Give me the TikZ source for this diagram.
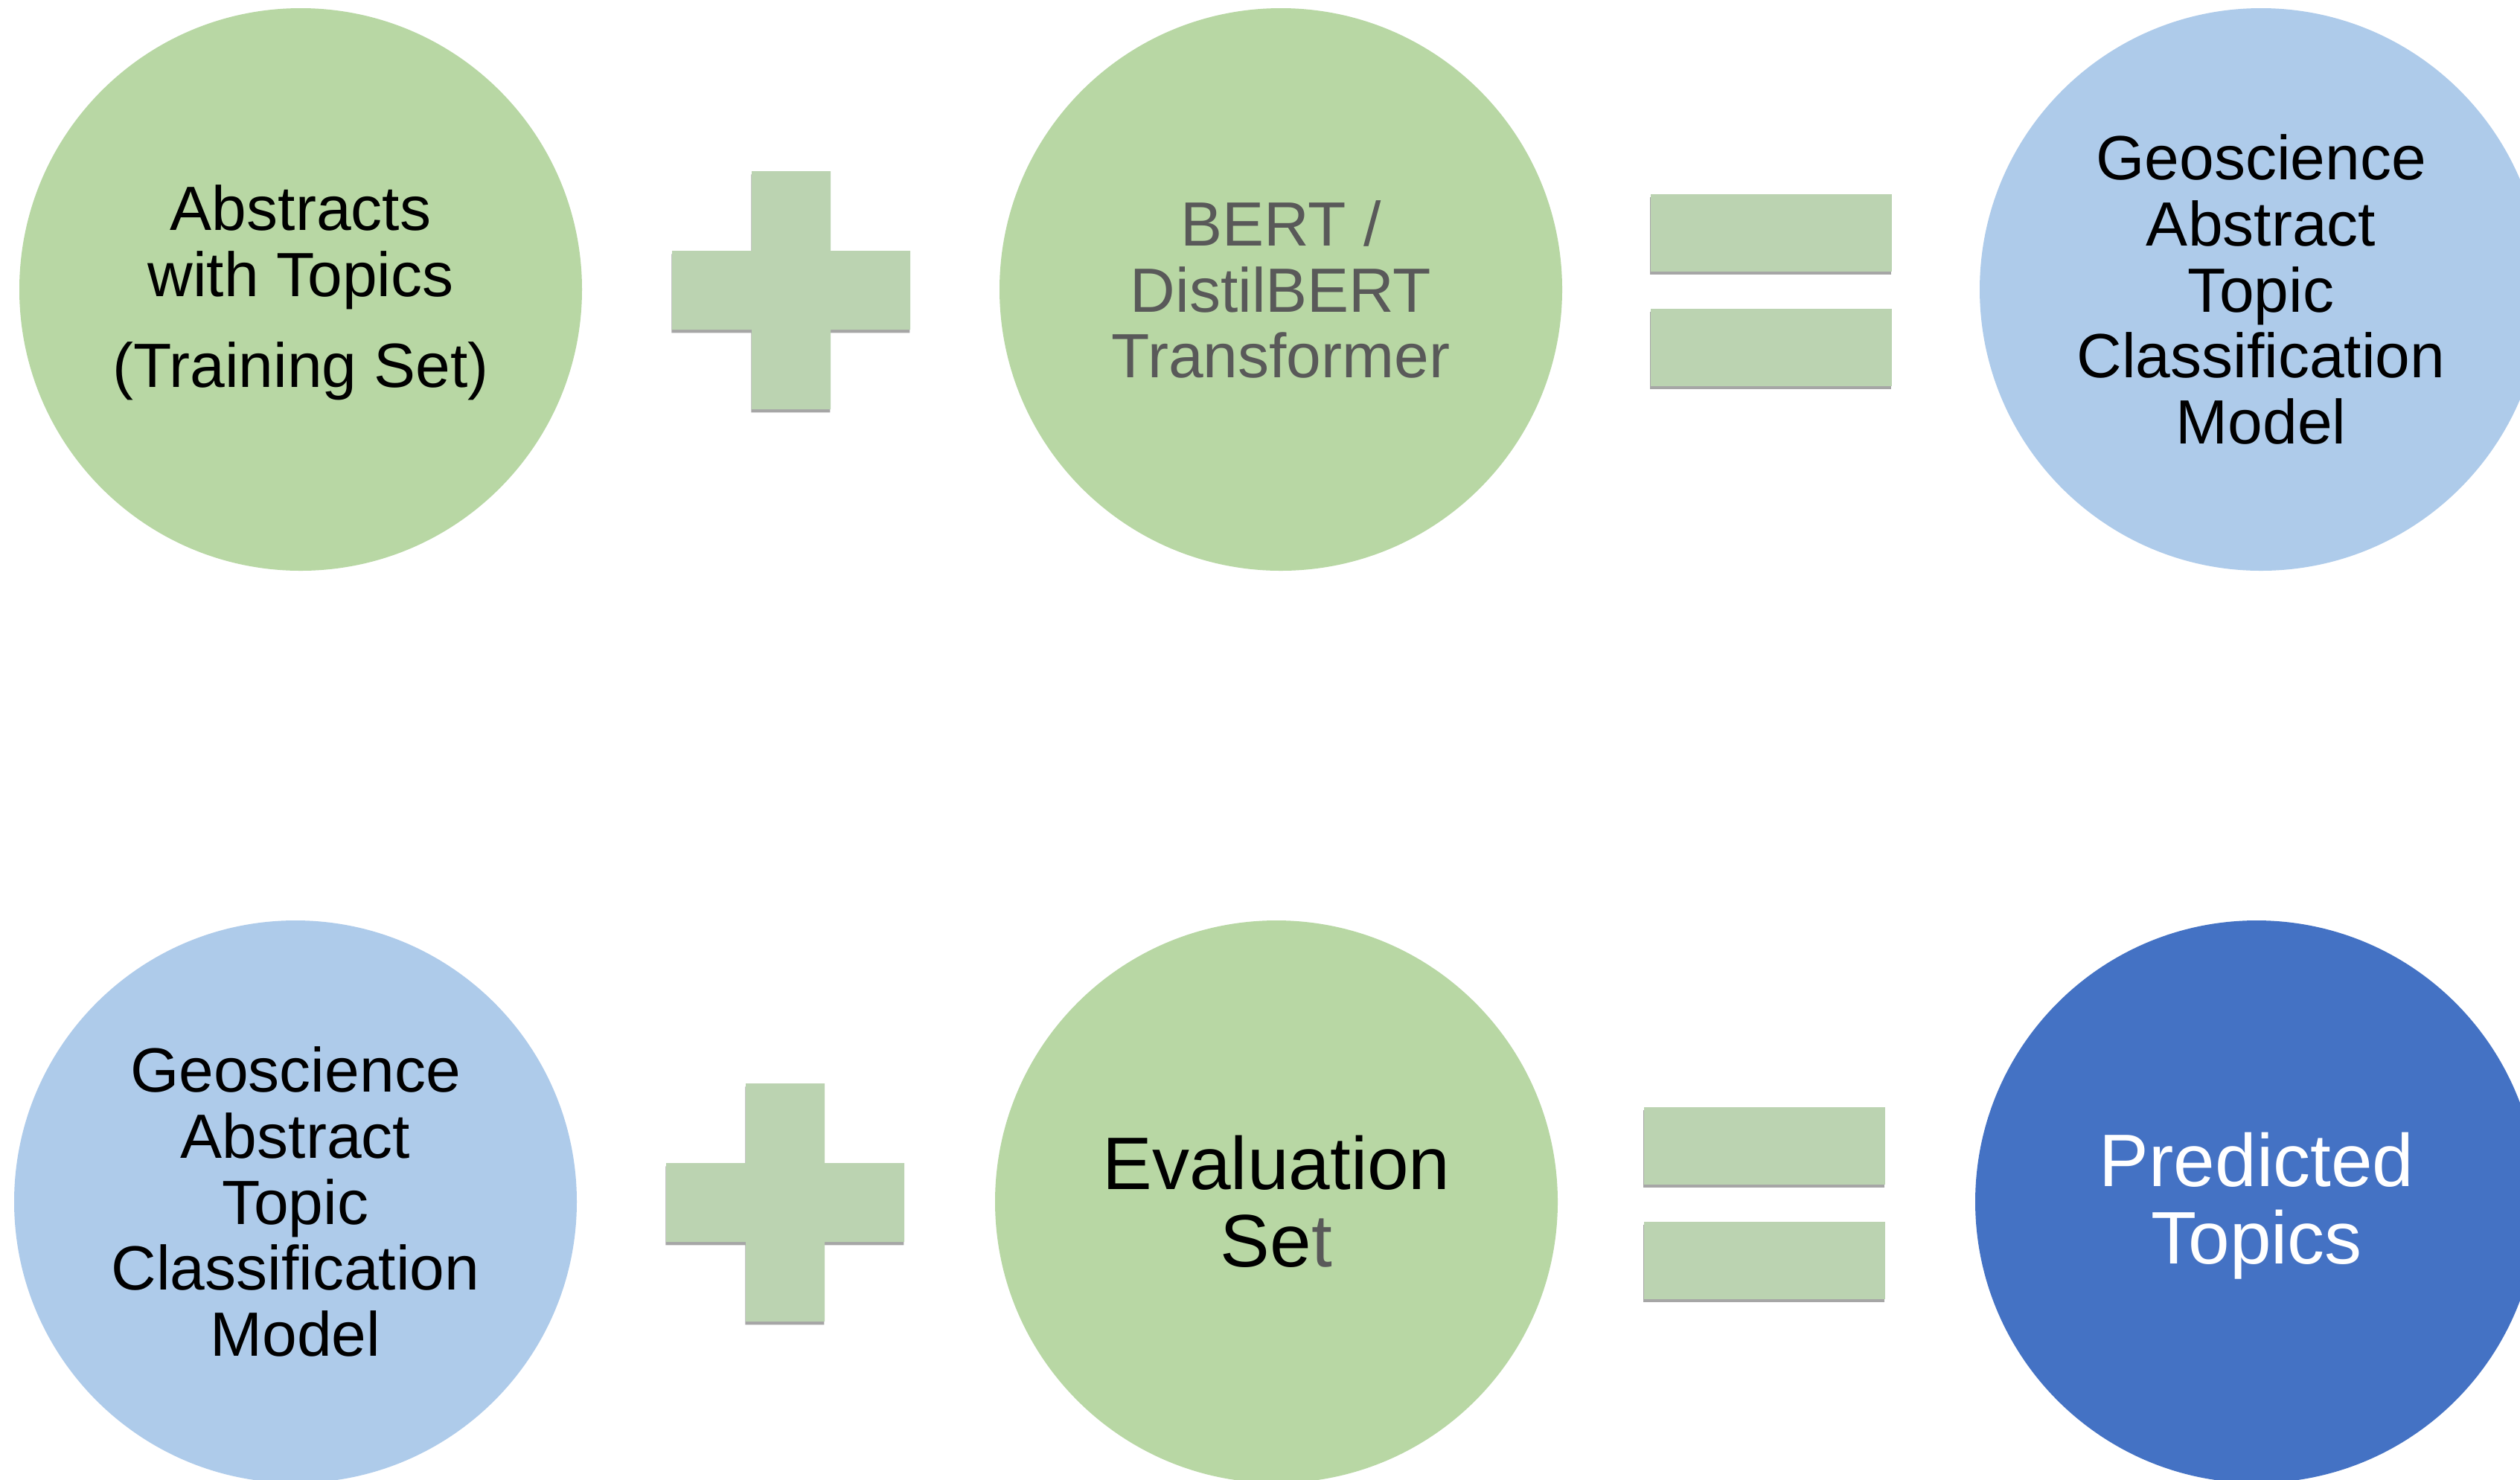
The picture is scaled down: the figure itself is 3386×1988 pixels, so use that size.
\documentclass[tikz,border=0pt]{standalone}
\usepackage{fontspec}
\setmainfont{Liberation Sans}
\usetikzlibrary{shadows}
\definecolor{cgreen}{HTML}{B8D7A4}
\definecolor{clblue}{HTML}{AECBEA}
\definecolor{cdblue}{HTML}{4472C4}
\definecolor{csym}{HTML}{BBD3B1}
\definecolor{cgray}{HTML}{595959}
\tikzset{
 bubble/.style={circle, minimum size=378pt, inner sep=0pt, align=center},
 gbubble/.style={bubble, fill=cgreen},
 bbubble/.style={bubble, fill=clblue},
 dbubble/.style={bubble, fill=cdblue, text=white},
 txtA/.style={font=\fontsize{42}{44.3}\selectfont},
 txtB/.style={font=\fontsize{50}{52}\selectfont},
 symshadow/.style={drop shadow={shadow xshift=-0.3pt, shadow yshift=-2.2pt, opacity=0.35, fill=black}},
 sym/.style={fill=csym, symshadow},
 eqbar/.style={sym, rectangle, minimum width=162pt, minimum height=52pt, inner sep=0pt},
}
\begin{document}
\begin{tikzpicture}[x=0.5pt, y=-0.5pt]
\useasboundingbox (0,0) rectangle (3386,1988);
\clip (0,0) rectangle (3386,1988);
\fill[white] (0,0) rectangle (3386,1988);

% top row
\node[gbubble, txtA] (tl) at (404,389) {\rule{0pt}{34.7pt}Abstracts\\with Topics\\[17pt](Training Set)};
\path[sym, shift={(1063,390)}] (-53,-160) -- (53,-160) -- (53,-53) -- (160,-53) -- (160,53) -- (53,53) -- (53,160) -- (-53,160) -- (-53,53) -- (-160,53) -- (-160,-53) -- (-53,-53) -- cycle;
\node[gbubble, txtA, text=cgray] (tm) at (1721,389) {BERT /\\DistilBERT\\Transformer};
\node[eqbar] (teq1) at (2380,313) {};
\node[eqbar] (teq2) at (2380,467) {};
\node[bbubble, txtA] (tr) at (3038,389) {Geoscience\\Abstract\\Topic\\Classification\\Model};

% bottom row
\node[bbubble, txtA] (bl) at (397,1615) {Geoscience\\Abstract\\Topic\\Classification\\Model};
\path[sym, shift={(1055,1616)}] (-53,-160) -- (53,-160) -- (53,-53) -- (160,-53) -- (160,53) -- (53,53) -- (53,160) -- (-53,160) -- (-53,53) -- (-160,53) -- (-160,-53) -- (-53,-53) -- cycle;
\node[gbubble, txtB] (bm) at (1715,1615) {Evaluation\\Se\textcolor{cgray}{t}};
\node[eqbar] (beq1) at (2371,1540) {};
\node[eqbar] (beq2) at (2371,1694) {};
\node[dbubble, txtB] (br) at (3032,1615) {\rule{0pt}{42pt}Predicted\\Topics};
\end{tikzpicture}
\end{document}
